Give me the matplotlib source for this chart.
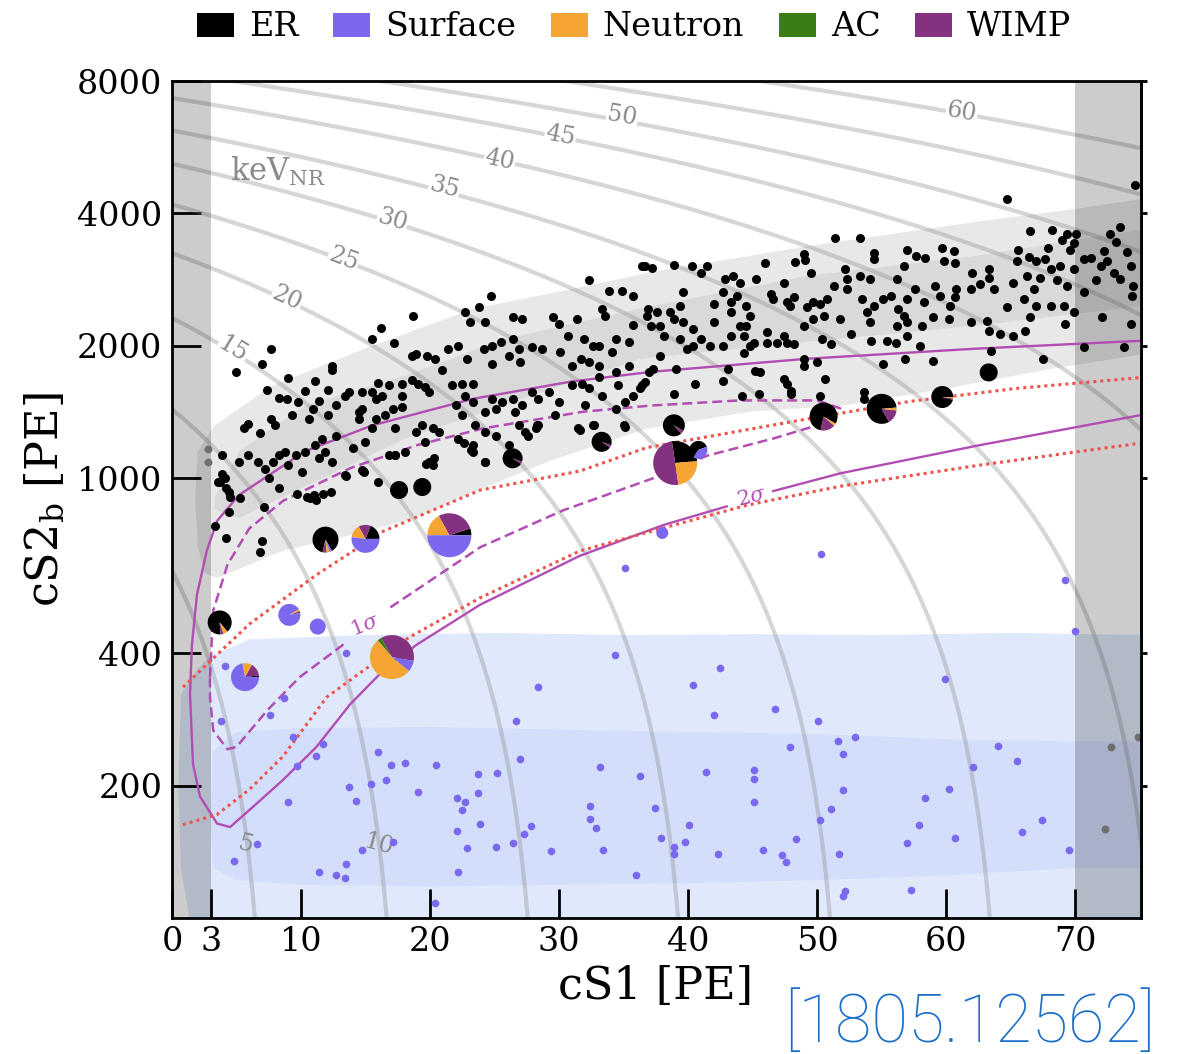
import numpy as np
import matplotlib.pyplot as plt
import matplotlib.transforms as mtransforms
from matplotlib.patches import Wedge, Patch
from matplotlib.ticker import NullLocator

plt.rcParams['font.family'] = ['DejaVu Serif']
plt.rcParams['mathtext.fontset'] = 'dejavuserif'

# ---- legend / component colours
comp_names = ['ER', 'Surface', 'Neutron', 'AC', 'WIMP']
comp_colors = ['#000000', '#7b68ee', '#f4a533', '#3a7d14', '#84327f']

# ---- constant-energy lines (keVnr): cS2b at cS1 = 0, all share one slope
energy_kev = [5, 10, 15, 20, 25, 30, 35, 40, 45, 50, 55, 60]
energy_cs2_at_zero = [616, 1436, 2314, 3250, 4195, 5190, 6180, 7320, 8380, 9300, 10450, 11660]
energy_slope = 80.3  # cS2b lost per PE of cS1 along one line

energy_lbl = ['5', '10', '15', '20', '25', '30', '35', '40', '45', '50', '60']
energy_lbl_x = [5.7, 16.0, 4.7, 8.9, 13.3, 17.1, 21.1, 25.4, 30.1, 34.9, 61.2]
energy_lbl_y = [147, 147, 1960, 2560, 3150, 3870, 4580, 5290, 6000, 6650, 6780]

# ---- ER band (grey), outer and inner
er_out_x = [1.8, 2.0, 3.3, 7.8, 15.5, 23.3, 31.0, 37.2, 49.2, 62.1, 69.8, 75.5,
            75.5, 68.2, 60.0, 51.8, 45.0, 36.7, 29.3, 24.1, 19.0, 13.8, 8.6, 3.5, 2.5, 2.0]
er_out_y = [900, 1150, 1318, 1624, 2000, 2425, 2693, 2942, 3367, 3819, 4087, 4330,
            1920, 1774, 1600, 1460, 1420, 1294, 1095, 950, 814, 742, 684, 593, 610, 700]
er_in_x = [3.3, 5.2, 10.3, 18.1, 25.8, 37.2, 49.2, 62.1, 75.5,
           75.5, 62.1, 49.2, 36.3, 18.1, 5.2, 3.3]
er_in_y = [900, 1151, 1462, 1710, 2074, 2462, 2882, 3195, 3690,
           2470, 2220, 2043, 1869, 1232, 812, 850]

# ---- surface band (blue), outer and inner
sf_out_x = [1.5, 0.7, 0.5, 0.7, 2.0, 3.0, 6.0, 15, 25, 35, 45, 55, 65, 75.5, 75.5]
sf_out_y = [95, 130, 200, 322, 370, 394, 430, 440, 445, 440, 442, 440, 445, 440, 95]
sf_in_x = [3.0, 3.2, 5, 10, 20, 30, 40, 50, 60, 70, 75.5,
           75.5, 70, 60, 50, 40, 30, 20, 10, 5, 3.2, 3.0]
sf_in_y = [180, 240, 265, 270, 272, 268, 265, 262, 255, 252, 252,
           130, 130, 125, 122, 120, 119, 118, 119, 122, 130, 160]

# ---- WIMP contours
w2a_x = [75, 62.1, 49.2, 37.2, 31.0, 23.3, 15.5, 10.3, 5.2, 3.5, 2.7, 1.94, 1.55, 1.4,
         1.63, 2.17, 3.5, 4.5, 6.0, 8.6, 11.2, 13.8, 16.4, 19.0, 23.9, 31.6, 38.1, 43.0]
w2a_y = [2053, 1969, 1869, 1746, 1660, 1515, 1318, 1151, 916, 800, 684, 544, 419, 323,
         224, 189, 164, 161, 176, 206, 245, 306, 366, 419, 516, 666, 783, 863]
w2b_x = [46.6, 51.8, 62.6, 75]
w2b_y = [935, 1026, 1189, 1390]

w1a_x = [2.95, 3.2, 4.3, 6.0, 8.6, 13.8, 19.0, 24.1, 31.9, 37.1, 44.0, 50.0, 51.8,
         49.7, 46.6, 41.5, 37.3, 30.3, 23.9, 16.9]
w1a_y = [353, 500, 636, 769, 888, 1054, 1189, 1298, 1417, 1463, 1503, 1503, 1441,
         1311, 1231, 1126, 1000, 845, 697, 508]
w1b_x = [13.3, 9.9, 7.4, 5.0, 4.3, 3.2, 2.95, 2.95]
w1b_y = [419, 353, 297, 245, 242, 267, 318, 353]

# ---- NR band lines (red dotted)
nr_hi_x = [0.85, 6.0, 11.2, 16.4, 23.9, 31.6, 36.8, 48.7, 57.1, 65.4, 75]
nr_hi_y = [335, 466, 603, 758, 940, 1038, 1174, 1355, 1494, 1600, 1693]
nr_lo_x = [0.85, 3.5, 6.0, 8.6, 12.0, 18.4, 23.9, 31.6, 38.1, 44.6, 51.8, 62.6, 75]
nr_lo_y = [163, 172, 196, 233, 318, 435, 535, 683, 771, 869, 959, 1071, 1201]

# ---- ER events
er_pts = [
    (18.7, 2340), (16.2, 2200), (15.5, 2070), (17.2, 2030), (12.4, 1800), (12.4, 1760), (11.1, 1660),
    (10.3, 1575), (9.0, 1690), (7.7, 1970), (7.0, 1820), (5.0, 1740), (7.4, 1590), (8.3, 1520),
    (8.9, 1515), (5.9, 1330), (5.6, 1300), (6.8, 1265), (7.7, 1365), (8.0, 1320), (9.3, 1390),
    (9.8, 1490), (10.9, 1440), (10.6, 1365), (11.4, 1500), (12.1, 1585), (12.7, 1465), (12.1, 1390),
    (13.4, 1540), (13.7, 1570), (14.7, 1570), (14.5, 1415), (15.5, 1570), (15.8, 1515), (16.3, 1540),
    (16.8, 1625), (16.0, 1650), (17.8, 1640), (18.6, 1670), (17.8, 1540), (17.1, 1440), (17.8, 1450),
    (19.1, 1640), (19.6, 1610), (19.9, 1570), (18.6, 1900), (18.9, 1915), (19.8, 1900), (20.4, 1870),
    (20.9, 1760), (21.4, 1970), (22.2, 2000), (22.9, 1870), (21.7, 1625), (22.5, 1640), (23.3, 1640),
    (24.8, 1820), (24.2, 1970), (24.8, 2000), (25.5, 2040), (26.4, 2070), (26.9, 1970), (26.1, 1900),
    (27.0, 1835), (27.9, 1985), (28.7, 1970), (29.5, 2320), (30.0, 2245), (30.7, 2110), (31.4, 2300),
    (31.9, 2070), (32.6, 2000), (33.3, 2425), (33.9, 2670), (34.9, 2670), (35.7, 2600), (33.6, 2340),
    (34.4, 2070), (33.1, 2000), (34.1, 1935), (35.4, 2040), (35.7, 2225), (36.4, 3040), (37.2, 3010),
    (32.3, 2830), (24.7, 2600), (23.8, 2450), (22.7, 2385), (23.1, 2265), (24.3, 2265), (26.4, 2320),
    (27.1, 2300), (30.1, 1935), (31.7, 1870), (31.0, 1800), (32.3, 1835), (33.1, 1800), (34.4, 1740),
    (35.4, 1800),
    (3.9, 1130), (4.1, 1000), (5.2, 1090), (5.9, 1130), (6.7, 1090), (7.2, 1050), (7.8, 1090),
    (8.3, 1130), (8.8, 1150), (9.0, 1070), (7.5, 1000), (8.3, 950), (9.6, 1130), (10.1, 1035),
    (10.3, 1150), (11.1, 1190), (11.4, 1110), (11.9, 1150), (12.4, 1090), (11.6, 1230), (12.7, 1250),
    (14.0, 1170), (15.0, 1210), (14.9, 1035), (15.5, 1300), (15.8, 1365), (16.5, 1390), (17.3, 1300),
    (14.5, 1365), (14.7, 1440), (16.8, 1130), (18.1, 1150), (18.9, 1275), (19.4, 1320), (19.6, 1210),
    (20.2, 1300), (20.7, 1275), (22.0, 1465), (22.5, 1390), (22.7, 1540), (23.3, 1490), (23.5, 1320),
    (24.3, 1415), (24.8, 1515), (25.1, 1440), (25.6, 1490), (26.4, 1515), (26.6, 1415), (27.1, 1465),
    (27.9, 1570), (28.4, 1515), (29.2, 1570), (30.0, 1490), (29.7, 1390), (26.9, 1320), (27.6, 1250),
    (28.4, 1320), (31.0, 1625), (31.8, 1640), (32.3, 1600), (33.3, 1540), (34.4, 1440), (34.6, 1625),
    (35.1, 1490), (35.7, 1540), (36.4, 1625), (37.0, 1740), (33.1, 1700), (32.0, 1465), (22.2, 1230),
    (23.3, 1190), (24.3, 1275), (25.1, 1250), (26.1, 1190), (27.4, 1275), (28.2, 1300), (31.5, 1300),
    (32.6, 1320), (35.1, 1310), (23.3, 1150), (24.3, 1090), (19.9, 1090), (20.2, 1070), (17.3, 1130),
    (16.0, 980), (13.4, 1015), (14.7, 1045), (3.6, 980), (4.4, 930),
    (3.7, 982), (4.2, 948), (3.9, 1020), (4.5, 907), (4.4, 840), (5.3, 900), (7.1, 860), (9.7, 920),
    (10.7, 900), (11.2, 890), (11.7, 920), (12.3, 930), (13.5, 1010), (14.8, 1040), (17.3, 1130),
    (20.3, 1110), (22.6, 1200), (23.2, 1160), (24.3, 1090), (28.3, 1320), (31.6, 1290), (32.7, 1320),
    (35.0, 1320), (36.3, 1600), (3.3, 780), (4.2, 730), (7.0, 720), (6.8, 680), (19.7, 1080),
    (10.5, 905), (11.0, 915),
    (36.7, 3040), (38.9, 3060), (40.3, 3030), (41.5, 3040), (41.0, 2925), (46.0, 3080), (48.3, 3110),
    (49.0, 3230), (49.1, 3130), (49.5, 2930), (51.4, 3510), (53.3, 3520), (54.4, 3260), (54.4, 3150),
    (57.0, 3310), (57.7, 3200), (58.4, 3170), (59.7, 3340), (60.6, 3290), (59.8, 3120), (60.7, 3090),
    (64.7, 4320), (66.5, 3640), (68.2, 3667), (69.4, 3600), (70.1, 3600), (69.9, 3420), (69.0, 3480),
    (65.6, 3310), (66.4, 3180), (65.5, 3120), (67.0, 3120), (67.7, 3145), (67.9, 3340), (69.6, 3310),
    (68.8, 3040), (68.1, 2985), (68.6, 2830), (69.9, 2985), (70.7, 3145), (71.2, 3170), (72.2, 3290),
    (72.7, 3600), (73.5, 3730), (73.2, 3445), (74.0, 3262), (72.5, 3120), (73.0, 2933), (73.5, 2832),
    (74.3, 3040), (74.5, 2735), (74.4, 2600), (72.0, 3040), (71.6, 2830), (70.7, 2645), (69.4, 2735),
    (67.3, 2860), (66.3, 2882), (65.2, 2782), (66.8, 2688), (66.0, 2555), (67.0, 2467), (68.1, 2467),
    (69.1, 2467), (69.9, 2383), (69.2, 2240), (72.1, 2320), (74.3, 2240), (66.5, 2320), (64.7, 2445),
    (66.1, 2165), (65.2, 2107), (64.2, 2125), (63.3, 2165), (63.2, 2280), (63.3, 2985), (63.3, 2860),
    (62.0, 2933), (62.6, 2760), (63.7, 2688), (61.9, 2688), (61.9, 2260), (60.8, 2688), (60.7, 2580),
    (60.3, 2467), (60.2, 2300), (59.5, 2600), (59.0, 2320), (59.1, 2735), (58.3, 2510), (57.6, 2688),
    (57.0, 2555), (56.7, 3040), (56.2, 2832), (56.3, 2425), (56.7, 2341), (57.0, 2260), (56.2, 2221),
    (58.1, 2221), (58.0, 2000), (57.0, 2107), (56.1, 2035), (55.4, 2050), (54.2, 2050), (54.1, 2260),
    (53.9, 2383), (54.4, 2467), (55.1, 2555), (55.7, 2600), (53.5, 2555), (53.3, 2882), (54.1, 2832),
    (52.3, 2832), (52.3, 2688), (52.2, 2985), (51.3, 2735), (50.8, 2555), (49.7, 2510), (50.2, 2490),
    (51.8, 2300), (52.6, 2125), (50.5, 2341), (49.0, 2221), (49.7, 2300), (49.2, 2445), (47.9, 2467),
    (47.7, 2510), (48.2, 2580), (47.4, 2782), (46.6, 2555), (46.4, 2620), (45.3, 2832), (44.0, 2782),
    (43.5, 2882), (42.9, 2832), (42.7, 2645), (43.3, 2510), (43.8, 2600), (42.0, 2490), (43.3, 2383),
    (44.5, 2467), (44.8, 2341), (44.0, 2221), (44.5, 2221), (44.3, 2107), (45.1, 2035), (46.1, 2035),
    (46.9, 2035), (47.7, 2035), (48.2, 2020), (47.4, 2107), (46.1, 2145), (43.3, 2107), (42.7, 2000),
    (42.0, 2260), (41.7, 2000), (41.0, 2071), (40.4, 2182), (40.4, 2000), (39.9, 1966), (39.4, 2071),
    (39.6, 2260), (39.4, 2467), (39.6, 2645), (38.9, 2300), (38.1, 2107), (37.8, 2221), (37.1, 2221),
    (37.6, 2383), (36.9, 2425), (36.8, 2341), (38.6, 2383), (37.8, 1898), (37.3, 1771), (39.1, 1771),
    (36.7, 1652), (38.9, 1555), (40.5, 1640), (42.7, 1665), (43.1, 1771), (44.3, 1931), (44.8, 2000),
    (45.2, 1755), (45.6, 1740), (47.4, 1680), (47.7, 1638), (48.0, 1582), (49.0, 1865), (49.0, 1802),
    (50.0, 1834), (50.4, 2071), (51.1, 2018), (50.6, 1680), (55.1, 1818), (56.8, 1865), (59.0, 1850),
    (63.5, 1948), (67.5, 1865), (70.7, 1983), (73.8, 1983), (74.6, 4650),
    (44.2, 1541), (45.5, 1555), (48.0, 1555), (50.2, 1541), (53.6, 1568), (53.6, 1515),
]
er_cs1 = [p[0] for p in er_pts]
er_cs2 = [p[1] for p in er_pts]

# ---- surface events
sf_pts = [
    (4.1, 375), (8.7, 316), (7.6, 290), (3.8, 280), (13.5, 400), (28.4, 335), (34.3, 397),
    (35.1, 626), (26.7, 280), (9.4, 258), (11.7, 249), (11.2, 233), (9.7, 222), (16.0, 239),
    (17.0, 223), (18.1, 225), (20.5, 223), (16.6, 206), (15.4, 202), (13.7, 199), (14.3, 185),
    (9.0, 184), (19.1, 193), (22.1, 187), (22.7, 184), (22.5, 176), (23.7, 213), (23.7, 192),
    (25.2, 214), (23.9, 164), (22.1, 158), (27.0, 230), (27.8, 162), (27.3, 155), (26.4, 148),
    (25.1, 145), (22.9, 144), (29.4, 142), (33.2, 220), (32.4, 180), (32.4, 168), (32.9, 160),
    (33.4, 143), (36.3, 210), (36.0, 125), (22.2, 127), (17.1, 149), (14.7, 143), (13.5, 133),
    (11.4, 127), (12.7, 125), (13.4, 123), (6.6, 147), (4.8, 135), (20.4, 108),
    (40.4, 338), (42.0, 289), (46.7, 298), (50.1, 281), (37.4, 178), (37.9, 152), (38.9, 145),
    (38.9, 140), (39.8, 149), (40.1, 163), (41.4, 215), (42.3, 140), (45.1, 217), (45.1, 207),
    (45.1, 184), (45.8, 143), (47.9, 245), (47.3, 139), (47.6, 134), (48.4, 151), (50.2, 167),
    (51.1, 177), (51.6, 253), (52.0, 236), (52.0, 195), (51.7, 140), (52.9, 258), (52.2, 115),
    (52.0, 112), (57.0, 148), (57.9, 163), (58.4, 187), (57.3, 116), (60.2, 196), (60.7, 152),
    (62.1, 220), (64.0, 246), (65.5, 228), (67.4, 167), (65.9, 157), (69.5, 143),
    (50.3, 673), (69.2, 588), (70.0, 450), (42.5, 371), (59.9, 349),
]
sf_cs1 = [p[0] for p in sf_pts]
sf_cs2 = [p[1] for p in sf_pts]

# events outside the cS1 range (drawn grey)
out_cs1 = [2.8, 2.8, 72.8, 72.3, 74.9]
out_cs2 = [1167, 1090, 245, 159, 258]

# ---- events with model fractions (pies)
pie_cs1 = [39.0, 21.5, 17.05, 5.66, 15.0, 11.9, 3.7, 9.1, 50.5, 55.0, 59.7, 38.9, 40.8,
           33.3, 26.4, 63.3, 19.4, 17.6, 11.3, 38.0]
pie_cs2 = [1083, 742, 392, 353, 728, 725, 470, 489, 1381, 1438, 1530, 1319, 1160,
           1210, 1110, 1740, 955, 940, 460, 751]
pie_er = [0.26, 0.05, 0.0, 0.02, 0.19, 0.88, 0.90, 0.0, 0.80, 0.82, 0.96, 0.95, 0.60,
          0.96, 0.96, 1.0, 1.0, 1.0, 0.0, 0.0]
pie_surface = [0.0, 0.50, 0.08, 0.72, 0.52, 0.03, 0.0, 0.94, 0.0, 0.0, 0.0, 0.0, 0.40,
               0.0, 0.0, 0.0, 0.0, 0.0, 1.0, 1.0]
pie_neutron = [0.24, 0.17, 0.53, 0.11, 0.15, 0.04, 0.06, 0.03, 0.03, 0.03, 0.02, 0.0, 0.0,
               0.0, 0.0, 0.0, 0.0, 0.0, 0.0, 0.0]
pie_ac = [0.0, 0.0, 0.03, 0.0, 0.0, 0.0, 0.0, 0.0, 0.0, 0.0, 0.0, 0.0, 0.0,
          0.0, 0.0, 0.0, 0.0, 0.0, 0.0, 0.0]
pie_wimp = [0.50, 0.28, 0.36, 0.15, 0.14, 0.05, 0.04, 0.03, 0.17, 0.15, 0.02, 0.05, 0.0,
            0.04, 0.04, 0.0, 0.0, 0.0, 0.0, 0.0]
pie_radius = [22, 22, 22, 14, 14, 13, 12, 11, 14, 15, 11, 11, 9, 10, 10, 9, 9, 9, 8, 6]
pie_start = [5, 0, -10, 0, 0, -60, -50, 10, -30, 5, 0, -30, 20, -20, -20, 0, 0, 0, 0, 0]

x_ticks = [0, 3, 10, 20, 30, 40, 50, 60, 70]
y_ticks = [200, 400, 1000, 2000, 4000, 8000]

fig = plt.figure(figsize=(11.81, 10.54), dpi=100)
ax = fig.add_axes([0.1456, 0.129, 0.8205, 0.7941])
ax.set_yscale('log')
ax.set_xlim(0, 75.1)
ax.set_ylim(100, 8000)
ax.set_autoscale_on(False)

# bands
ax.fill(sf_out_x, sf_out_y, color='#dfe9fb', lw=0, zorder=0.5)
ax.fill(sf_in_x, sf_in_y, color='#d2defa', lw=0, zorder=0.6)
ax.fill(er_out_x, er_out_y, color='#e8e8e8', lw=0, zorder=0.7)
ax.fill(er_in_x, er_in_y, color='#d9d9d9', lw=0, zorder=0.8)

# constant energy lines (straight in linear cS1-cS2 space)
for y0 in energy_cs2_at_zero:
    xs = np.linspace(0, (y0 - 90) / energy_slope, 300)
    ax.plot(xs, y0 - energy_slope * xs, color='#8a8a8a', alpha=0.35, lw=3.0,
            solid_capstyle='butt', zorder=2)

for lbl, lx, ly in zip(energy_lbl, energy_lbl_x, energy_lbl_y):
    if lbl in ('5', '10'):
        ax.text(lx, ly, lbl, color='#8a8a8a', fontsize=17, rotation=-15,
                ha='center', va='center', zorder=2.5)
    else:
        ax.text(lx, ly, lbl, color='#8a8a8a', fontsize=17,
                rotation=np.degrees(np.arctan2(-energy_slope, 1.0)),
                transform_rotates_text=True, rotation_mode='anchor',
                ha='center', va='center', zorder=2.5,
                bbox=dict(facecolor='white', edgecolor='none', pad=0.5))
ax.text(4.5, 4990, r'keV$_\mathrm{NR}$', color='#8a8a8a', fontsize=22,
        ha='left', va='center', zorder=2.5)

# excluded cS1 ranges
ax.axvspan(0, 3, color='black', alpha=0.2, lw=0, zorder=3)
ax.axvspan(70, 75.5, color='black', alpha=0.2, lw=0, zorder=3)

# signal contours and NR band lines
purple = '#b24db4'
red = '#f0524c'
ax.plot(w2a_x, w2a_y, color=purple, lw=1.7, zorder=4)
ax.plot(w2b_x, w2b_y, color=purple, lw=1.7, zorder=4)
ax.plot(w1a_x, w1a_y, color=purple, lw=1.8, dashes=(4, 2), zorder=4)
ax.plot(w1b_x, w1b_y, color=purple, lw=1.8, dashes=(4, 2), zorder=4)
ax.plot(nr_hi_x, nr_hi_y, color=red, lw=2.2, linestyle=(0, (1, 1.3)), zorder=4)
ax.plot(nr_lo_x, nr_lo_y, color=red, lw=2.2, linestyle=(0, (1, 1.3)), zorder=4)
ax.text(15.0, 463, r'1$\sigma$', color=purple, fontsize=15, rotation=22,
        ha='center', va='center', zorder=4)
ax.text(44.9, 905, r'2$\sigma$', color=purple, fontsize=15, rotation=14,
        ha='center', va='center', zorder=4)

# events
ax.scatter(sf_cs1, sf_cs2, s=30, color=comp_colors[1], lw=0, zorder=5)
ax.scatter(er_cs1, er_cs2, s=42, color='black', lw=0, zorder=5)
ax.scatter(out_cs1, out_cs2, s=32, color='#6e6e6e', lw=0, zorder=5)

# pies: ER, WIMP, AC, Neutron, Surface counter-clockwise
pie_order = [0, 4, 3, 2, 1]
for i in range(len(pie_cs1)):
    parts = [pie_er[i], pie_surface[i], pie_neutron[i], pie_ac[i], pie_wimp[i]]
    total = sum(parts)
    trans = fig.dpi_scale_trans + mtransforms.ScaledTranslation(pie_cs1[i], pie_cs2[i], ax.transData)
    theta = pie_start[i]
    for k in pie_order:
        frac = parts[k] / total
        if frac <= 0:
            continue
        ax.add_patch(Wedge((0, 0), pie_radius[i] / 100.0, theta, theta + 360 * frac,
                           facecolor=comp_colors[k], edgecolor='none',
                           transform=trans, zorder=6))
        theta += 360 * frac

# axes styling
ax.set_xticks(x_ticks)
ax.set_xticklabels([str(t) for t in x_ticks])
ax.set_yticks(y_ticks)
ax.set_yticklabels([str(t) for t in y_ticks])
ax.yaxis.set_minor_locator(NullLocator())
ax.tick_params(axis='both', direction='in', length=21, width=2, labelsize=24,
               colors='black', pad=6)
ax.tick_params(axis='y', pad=7)
for side in ['left', 'bottom', 'right', 'top']:
    ax.spines[side].set_linewidth(2)
    ax.spines[side].set_zorder(10)

sec = ax.secondary_yaxis('right')
sec.set_yticks(y_ticks)
sec.set_yticklabels([])
sec.yaxis.set_minor_locator(NullLocator())
sec.tick_params(direction='out', length=4, width=2)
sec.spines['right'].set_linewidth(2)

fig.text(0.555, 0.064, 'cS1 [PE]', fontsize=32, ha='center', va='center')
fig.text(0.038, 0.526, r'cS2$_\mathrm{b}$ [PE]', fontsize=32, rotation=90,
         ha='center', va='center')

handles = [Patch(facecolor=c, edgecolor='none') for c in comp_colors]
fig.legend(handles, comp_names, loc='center', bbox_to_anchor=(0.537, 0.974), ncol=5,
           frameon=False, fontsize=24, handlelength=1.1, handleheight=0.75,
           handletextpad=0.45, columnspacing=1.05)

fig.text(0.978, 0.0114, '[1805.12562]', fontsize=48, color='#1a6dc8',
         family=['Roboto', 'DejaVu Sans'], fontweight='light', ha='right', va='baseline')

fig.savefig('out.png', dpi=100)
